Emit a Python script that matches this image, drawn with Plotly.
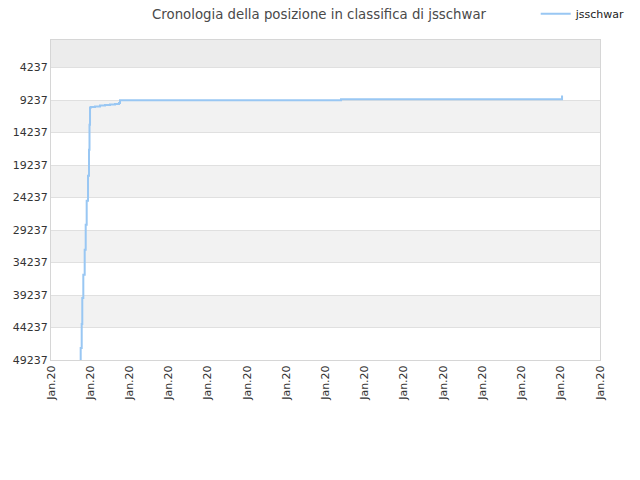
import plotly.graph_objects as go

# ranking history (x = position along the time axis in tick units, y = rank)
dates = [0.74, 0.757, 0.783, 0.798, 0.824, 0.859, 0.885, 0.910, 0.944, 0.969,
         0.982, 0.995, 1.020, 1.122, 1.250, 1.377, 1.505, 1.632, 1.734, 1.760,
         7.396, 13.032]
ranks = [49237, 47388, 43689, 39682, 36138, 32285, 28432, 24734, 20881, 16874,
         13021, 10401, 10324, 10247, 10093, 10016, 9939, 9862, 9708, 9276,
         9122, 8552]

x_ticks = list(range(15))
x_labels = ["Jan.20"] * 15
y_ticks = [4237, 9237, 14237, 19237, 24237, 29237, 34237, 39237, 44237, 49237]
y_top = 0
y_bottom = 49237

fig = go.Figure()
fig.add_trace(go.Scatter(
    x=dates, y=ranks,
    mode="lines",
    line=dict(color="#99c7f3", width=2, shape="hv"),
    name="jsschwar",
))

# alternating background bands
edges = [y_top] + y_ticks
shapes = []
for i in range(len(edges) - 1):
    if i % 2 == 0:
        shapes.append(dict(
            type="rect", xref="paper", yref="y",
            x0=0, x1=1, y0=edges[i], y1=edges[i + 1],
            fillcolor="#ececec" if i == 0 else "#f2f2f2",
            line=dict(width=0), layer="below",
        ))

# the page adds an 8px body margin, so the margins are set 8px smaller on top/left
fig.update_layout(
    width=640, height=480,
    margin=dict(l=43, r=48, t=32, b=128, autoexpand=False),
    paper_bgcolor="white",
    plot_bgcolor="white",
    font=dict(family="DejaVu Sans", size=11, color="#333333"),
    title=dict(
        text="Cronologia della posizione in classifica di jsschwar",
        x=0.486, xanchor="center", y=0.986, yanchor="middle",
        font=dict(size=13.3, color="#4a4a4a"),
    ),
    showlegend=True,
    legend=dict(
        xref="container", yref="container",
        x=0.973, xanchor="right", y=0.988, yanchor="middle",
        bgcolor="rgba(0,0,0,0)", font=dict(size=11, color="#222222"),
        itemwidth=30,
    ),
    shapes=shapes,
    xaxis=dict(
        range=[0, 14],
        tickvals=x_ticks, ticktext=x_labels,
        tickangle=-90, automargin=False,
        showgrid=False, zeroline=False,
        showline=True, mirror=True, linecolor="#d6d6d6", linewidth=1,
        ticks="", fixedrange=True,
    ),
    yaxis=dict(
        range=[y_bottom, y_top], automargin=False,
        tickvals=y_ticks, ticktext=[str(v) for v in y_ticks],
        showgrid=True, gridcolor="#e0e0e0", gridwidth=1,
        zeroline=False,
        showline=True, mirror=True, linecolor="#d6d6d6", linewidth=1,
        ticks="",
    ),
)

fig.write_html("out.html")
